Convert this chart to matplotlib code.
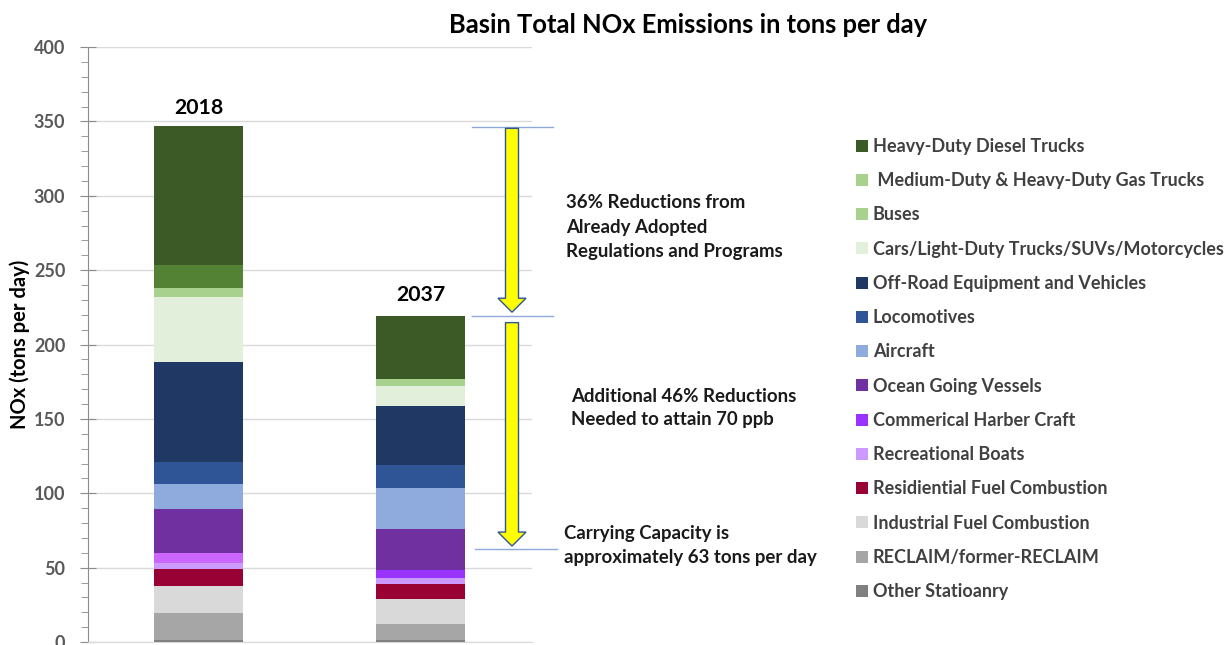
import matplotlib
matplotlib.use("Agg")
import matplotlib.pyplot as plt
from matplotlib.patches import Patch, FancyArrow
import numpy as np

W, H = 1226, 645
FONT = ["Lato", "DejaVu Sans"]
plt.rcParams['font.family'] = FONT

years = ["2018", "2037"]
categories = [
    "Other Statioanry",
    "RECLAIM/former-RECLAIM",
    "Industrial Fuel Combustion",
    "Residiential Fuel Combustion",
    "Recreational Boats",
    "Commerical Harber Craft",
    "Ocean Going Vessels",
    "Aircraft",
    "Locomotives",
    "Off-Road Equipment and Vehicles",
    "Cars/Light-Duty Trucks/SUVs/Motorcycles",
    "Buses",
    " Medium-Duty & Heavy-Duty Gas Trucks",
    "Heavy-Duty Diesel Trucks",
]
values_2018 = [1.5, 18.2, 18.2, 11.4, 4.1, 6.2, 29.5, 16.8, 15.4, 66.7, 43.7, 6.0, 15.6, 93.5]
values_2037 = [1.3, 10.5, 17.2, 9.7, 4.0, 5.6, 27.6, 27.4, 15.7, 39.7, 13.6, 4.5, 0.0, 42.4]

bar_colors_2018 = ["#808080", "#a6a6a6", "#d9d9d9", "#990033", "#cc99ff", "#cc66ff",
                   "#7030a0", "#8faadc", "#2f5597", "#203864", "#e2efda", "#a9d18e",
                   "#548235", "#3b5a26"]
bar_colors_2037 = ["#808080", "#a6a6a6", "#d9d9d9", "#990033", "#cc99ff", "#9933ff",
                   "#7030a0", "#8faadc", "#2f5597", "#203864", "#e2efda", "#a9d18e",
                   "#548235", "#3b5a26"]
legend_colors = ["#808080", "#a6a6a6", "#d9d9d9", "#990033", "#cc99ff", "#9933ff",
                 "#7030a0", "#8faadc", "#2f5597", "#203864", "#e2efda", "#a9d18e",
                 "#a9d18e", "#3b5a26"]

carrying_capacity = 63
total_2018 = sum(values_2018)
total_2037 = sum(values_2037)

fig = plt.figure(figsize=(W / 100, H / 100), dpi=100)
L, R, T, B = 87.5, 532, 47, 642
ax = fig.add_axes([L / W, 1 - B / H, (R - L) / W, (B - T) / H])

x = np.arange(len(years))
bottom = np.zeros(len(years))
for i, cat in enumerate(categories):
    vals = np.array([values_2018[i], values_2037[i]])
    ax.bar(x, vals, 0.4, bottom=bottom, color=[bar_colors_2018[i], bar_colors_2037[i]],
           edgecolor="none", zorder=3)
    bottom += vals

ax.set_xlim(-0.5, 1.5)
ax.set_ylim(0, 400)
ax.set_yticks(np.arange(0, 401, 50))
ax.set_yticks(np.arange(0, 401, 10), minor=True)
ax.set_xticks([])
ax.grid(axis="y", which="major", color="#d9d9d9", lw=1, zorder=0)
for s in ["top", "right"]:
    ax.spines[s].set_visible(False)
ax.spines["bottom"].set_color("#d9d9d9")
ax.spines["left"].set_color("#8c8c8c")
ax.tick_params(axis="y", which="major", direction="inout", length=12, color="#8c8c8c",
               labelsize=13, labelcolor="#595959", pad=10)
ax.tick_params(axis="y", which="minor", direction="out", length=5, color="#8c8c8c")
for lab in ax.get_yticklabels():
    lab.set_fontweight("bold")
ax.set_ylabel("NOx (tons per day)", fontsize=14.5, fontweight="bold", color="black", labelpad=3)

# year labels above bars
ax.text(x[0], total_2018 + 12, years[0], ha="center", va="center", fontsize=15.3, fontweight="bold")
ax.text(x[1], total_2037 + 14, years[1], ha="center", va="center", fontsize=15.3, fontweight="bold")

# reference lines and arrows (outside axes area)
def px2x(px):
    return (px - L) / ((R - L) / 2) - 0.5

xa = px2x(512)
for y0, xs, xe in [(total_2018, 472, 553), (total_2037, 472, 553), (carrying_capacity, 475, 557)]:
    ax.plot([px2x(xs), px2x(xe)], [y0 - 0.3, y0 - 0.3], color="#8eaadb", lw=1, clip_on=False, zorder=4)

ypx = (B - T) / 400.0
xunit = (R - L) / 2
for y_start, y_end in [(total_2018 - 1.5, total_2037 + 2.5), (total_2037 - 4.5, carrying_capacity + 1.5)]:
    arr = FancyArrow(xa, y_start, 0, y_end - y_start, width=13 / xunit, head_width=28 / xunit,
                     head_length=14 / ypx, length_includes_head=True, facecolor="#ffff00",
                     edgecolor="#2f5597", lw=1, clip_on=False, zorder=5)
    ax.add_patch(arr)

def ftext(px, py, s, **kw):
    fig.text(px / W, 1 - py / H, s, **kw)

tkw = dict(fontsize=13.4, fontweight="bold", color="#1a1a1a", va="center", ha="left")
ftext(566, 203, "36% Reductions from", **tkw)
ftext(566, 227, "Already Adopted", **tkw)
ftext(566, 251, "Regulations and Programs", **tkw)
ftext(571, 396, "Additional 46% Reductions", **tkw)
ftext(571, 420, "Needed to attain 70 ppb", **tkw)
ftext(564, 533, "Carrying Capacity is", **tkw)
ftext(564, 557, "approximately 63 tons per day", **tkw)

ftext(688, 25, "Basin Total NOx Emissions in tons per day", fontsize=18.4, fontweight="bold",
      color="black", ha="center", va="center")

handles = [Patch(facecolor=c, edgecolor="none") for c in legend_colors[::-1]]
leg = fig.legend(handles, categories[::-1], loc="upper left",
                 bbox_to_anchor=(856 / W, 1 - 138 / H), frameon=False,
                 handlelength=0.64, handleheight=0.64, handletextpad=0.3,
                 labelspacing=0.955, borderaxespad=0, borderpad=0,
                 prop=dict(family=FONT, size=13.0, weight="bold"))
for t in leg.get_texts():
    t.set_color("#404040")

fig.savefig("out.png", dpi=100)
